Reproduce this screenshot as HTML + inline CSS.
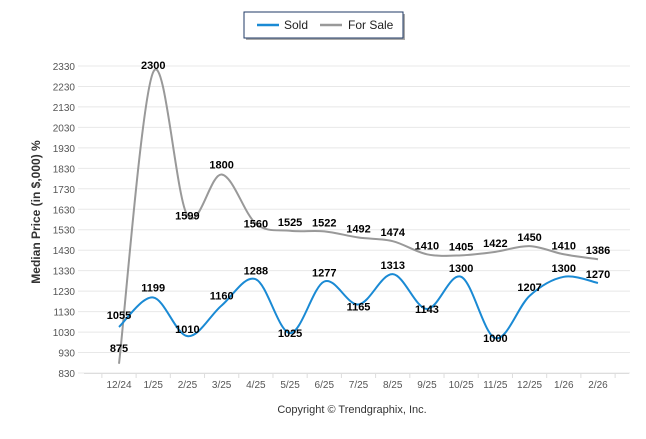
<!DOCTYPE html>
<html><head><meta charset="utf-8"><style>
body{margin:0;background:#fff;font-family:"Liberation Sans",sans-serif}
svg text{font-family:"Liberation Sans",sans-serif}
</style></head><body>
<svg width="646" height="434">
<g>
<rect x="246" y="14" width="159" height="26" fill="#555" opacity="0.5"/>
<rect x="244" y="12" width="159" height="26" fill="#fff" stroke="#1f3864" stroke-width="1"/>
<line x1="257" y1="25" x2="279" y2="25" stroke="#1a8ad4" stroke-width="2.5"/>
<text x="284" y="29" font-size="12" fill="#222">Sold</text>
<line x1="320" y1="25" x2="342" y2="25" stroke="#999" stroke-width="2.5"/>
<text x="348" y="29" font-size="12" fill="#222">For Sale</text>
</g>
<g id="grid"></g>
<text transform="translate(40,212) rotate(-90)" text-anchor="middle" font-size="12" font-weight="bold" fill="#333">Median Price (in $,000) %</text>
<text x="352" y="413" text-anchor="middle" font-size="11" fill="#333">Copyright © Trendgraphix, Inc.</text>
<g id="series"></g>
</svg>
<script>
const categories=["12/24","1/25","2/25","3/25","4/25","5/25","6/25","7/25","8/25","9/25","10/25","11/25","12/25","1/26","2/26"];
const sold=[1055,1199,1010,1160,1288,1025,1277,1165,1313,1143,1300,1000,1207,1300,1270];
const forSale=[875,2300,1599,1800,1560,1525,1522,1492,1474,1410,1405,1422,1450,1410,1386];
const yTicks=[830,930,1030,1130,1230,1330,1430,1530,1630,1730,1830,1930,2030,2130,2230,2330];
const NS="http://www.w3.org/2000/svg";
const x=i=>119+i*(598-119)/14;
const y=v=>373-(v-830)*(373-66)/1500;
const g=document.getElementById('grid'),s=document.getElementById('series');
function el(t,a,p){const e=document.createElementNS(NS,t);for(const k in a)e.setAttribute(k,a[k]);p.appendChild(e);return e;}
yTicks.forEach(v=>{
 const l=el('line',{x1:78,x2:630,y1:y(v),y2:y(v),stroke:'#e8e8e8'},g);
 
 
 const t=el('text',{x:75,y:y(v)+4,'text-anchor':'end','font-size':10,fill:'#555'},g);t.textContent=v;
 
 
});
el('line',{x1:84,x2:629,y1:373.5,y2:373.5,stroke:'#ddd'},g);
for(let i=0;i<=15;i++){el('line',{x1:x(i-0.5),x2:x(i-0.5),y1:373,y2:378,stroke:'#ddd'},g);}
categories.forEach((c,i)=>{
 const t=el('text',{x:x(i),y:388,'text-anchor':'middle','font-size':10,fill:'#555'},g);t.textContent=c;
 
 
});
function path(d){
 const p=d.map((v,i)=>[x(i),y(v)]);let s='M'+p[0];
 for(let i=0;i<p.length-1;i++){const p0=p[i-1]||p[i],p1=p[i],p2=p[i+1],p3=p[i+2]||p[i+1];
  s+=' C'+(p1[0]+(p2[0]-p0[0])/6)+','+(p1[1]+(p2[1]-p0[1])/6)+' '+(p2[0]-(p3[0]-p1[0])/6)+','+(p2[1]-(p3[1]-p1[1])/6)+' '+p2;}
 return s;}
const fp=el('path',{d:path(forSale),fill:'none',stroke:'#999','stroke-width':2},s);


const sp=el('path',{d:path(sold),fill:'none',stroke:'#1a8ad4','stroke-width':2},s);


function labels(d,name,off){d.forEach((v,i)=>{
 const t=el('text',{x:x(i),y:y(v)+off[i],'text-anchor':'middle','font-size':11,'font-weight':'bold',fill:'#000'},s);t.textContent=v;
 
 });}
labels(forSale,'for-sale-value-label',[-12,-3,4,-6,4,-5,-5,-5,-5,-5,-5,-5,-5,-5,-5]);
labels(sold,'sold-value-label',[-8,-6,-3,-6,-5,4,-5,6,-5,4,-5,4,-5,-5,-5]);
</script>
</body></html>
